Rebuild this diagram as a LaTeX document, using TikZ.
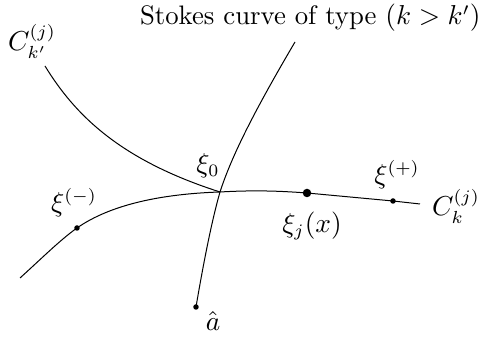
\documentclass[tikz,border=0pt]{standalone}
\usepackage{amsmath}

\begin{document}
\begin{tikzpicture}[x=0.4pt, y=-0.4pt, line width=0.4pt,
  every node/.style={font=\fontsize{10.7}{13}\selectfont}]

\tikzset{
  pt/.style={circle, fill, inner sep=0pt, minimum size=2.2pt},
  bigpt/.style={circle, fill, inner sep=0pt, minimum size=3.4pt},
}

\useasboundingbox (0,0) rectangle (483,338);

% points on the curves
\coordinate (xi0) at (220,192);
\coordinate (ctop) at (45,66);
\coordinate (stop) at (295,42);
\coordinate (lend) at (20,278);
\coordinate (rend) at (420,204);
\node[pt] (xim) at (77,228) {};
\node[bigpt] (xij) at (307,193) {};
\node[pt] (xip) at (393,201) {};
\node[pt] (ahat) at (196,307) {};

% C_{k'} curve
\draw (ctop) .. controls (75,115) and (120,160) .. (xi0);

% Stokes curve
\draw (stop) .. controls (255,110) and (232,155) .. (xi0)
  .. controls (212,220) and (204,260) .. (ahat.center);

% C_k curve
\draw (lend) .. controls (40,260) and (60,240) .. (xim.center)
  .. controls (110,205) and (160,194) .. (xi0)
  .. controls (255,190) and (280,191) .. (xij.center)
  -- (xip.center) -- (rend);

% labels
\node[anchor=base east, inner sep=0pt] (lstokes) at (481,25) {Stokes curve of type $(k>k')$};
\node (lck1) at (32,41) {$C^{(j)}_{k'}$};
\node (lck) at (456,206) {$C^{(j)}_{k}$};
\node (lxi0) at (208,166) {$\xi_0$};
\node (lxip) at (397,175) {$\xi^{(+)}$};
\node (lxim) at (74,203) {$\xi^{(-)}$};
\node (lxij) at (312,226) {$\xi_j(x)$};
\node (lahat) at (213,321) {$\hat a$};

\end{tikzpicture}
\end{document}
